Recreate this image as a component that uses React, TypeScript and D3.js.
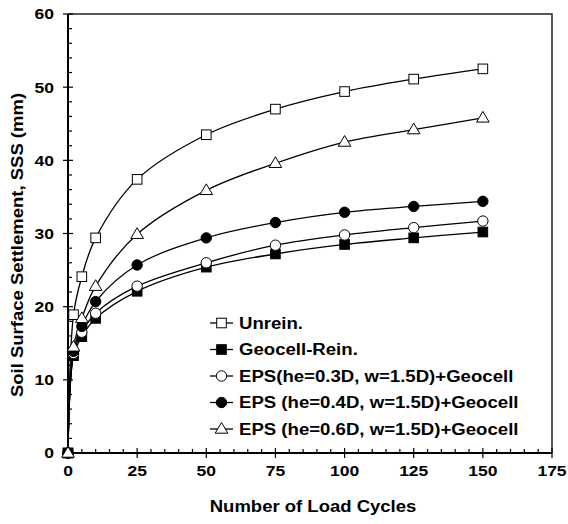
import React, { useEffect, useRef } from 'react';
import * as d3 from 'd3';

const cycles = [0, 2, 5, 10, 25, 50, 75, 100, 125, 150];
const unrein = [0, 18.9, 24.1, 29.4, 37.4, 43.5, 47.0, 49.4, 51.1, 52.5];
const geocell = [0, 13.3, 15.9, 18.4, 22.1, 25.4, 27.2, 28.5, 29.4, 30.2];
const eps03 = [0, 13.6, 16.5, 19.1, 22.8, 26.0, 28.4, 29.8, 30.8, 31.7];
const eps04 = [0, 13.9, 17.3, 20.7, 25.7, 29.4, 31.5, 32.9, 33.7, 34.4];
const eps06 = [0, 14.5, 18.4, 22.8, 29.9, 35.9, 39.6, 42.5, 44.2, 45.8];

const seriesNames = [
  'Unrein.',
  'Geocell-Rein.',
  'EPS(he=0.3D, w=1.5D)+Geocell',
  'EPS (he=0.4D, w=1.5D)+Geocell',
  'EPS (he=0.6D, w=1.5D)+Geocell',
];
const seriesValues = [unrein, geocell, eps03, eps04, eps06];
const seriesMarkers = ['square-open', 'square', 'circle-open', 'circle', 'triangle-open'];

const xTicks = [0, 25, 50, 75, 100, 125, 150, 175];
const yTicks = [0, 10, 20, 30, 40, 50, 60];

const App = () => {
  const svgRef = useRef<SVGSVGElement>(null);

  useEffect(() => {
    const svg = d3.select(svgRef.current);
    svg.selectAll('*').remove();

    const W = 568, H = 524;
    const margin = { top: 14, right: 16, bottom: 71, left: 68 };
    const width = W - margin.left - margin.right;
    const height = H - margin.top - margin.bottom;
    const font = 'Liberation Sans, Arial, sans-serif';
    const squish = 0.87; // text in the reference is a bit flatter than normal

    const x = d3.scaleLinear().domain([0, 175]).range([0, width]);
    const y = d3.scaleLinear().domain([0, 60]).range([height, 0]);

    const label = (parent: any, tx: number, ty: number, str: string | number, size: number, anchor: string, rot = 0) =>
      parent.append('text')
        .attr('transform', `translate(${tx},${ty}) rotate(${rot}) scale(1,${squish})`)
        .attr('text-anchor', anchor)
        .attr('font-family', font)
        .attr('font-weight', 'bold')
        .attr('font-size', size)
        .attr('fill', '#000')
        .text(str);

    const g = svg.append('g').attr('transform', `translate(${margin.left},${margin.top})`);

    // frame (top & right)
    g.append('path')
      .attr('d', `M0,0H${width}V${height}`)
      .attr('fill', 'none')
      .attr('stroke', '#222')
      .attr('stroke-width', 1.5);

    // minor ticks
    d3.range(0, 176, 5).filter(v => v % 25 !== 0).forEach(v => {
      g.append('line').attr('x1', x(v)).attr('x2', x(v)).attr('y1', height).attr('y2', height - 4)
        .attr('stroke', '#000').attr('stroke-width', 1.2);
    });
    d3.range(0, 61, 2).filter(v => v % 10 !== 0).forEach(v => {
      g.append('line').attr('x1', 0).attr('x2', 4).attr('y1', y(v)).attr('y2', y(v))
        .attr('stroke', '#000').attr('stroke-width', 1.2);
    });

    const tickSize = 17.5;
    const tickCap = 0.716 * tickSize * squish;

    // major ticks + labels
    xTicks.forEach(v => {
      g.append('line').attr('x1', x(v)).attr('x2', x(v)).attr('y1', height + 5).attr('y2', height - 5)
        .attr('stroke', '#000').attr('stroke-width', 1.2);
      label(g, x(v), height + 18 + tickCap / 2, v, tickSize, 'middle');
    });
    yTicks.forEach(v => {
      g.append('line').attr('x1', -5).attr('x2', 5).attr('y1', y(v)).attr('y2', y(v))
        .attr('stroke', '#000').attr('stroke-width', 1.2);
      label(g, -14, y(v) + tickCap / 2, v, tickSize, 'end');
    });

    // axis lines
    g.append('line').attr('x1', 0).attr('x2', width).attr('y1', height).attr('y2', height)
      .attr('stroke', '#000').attr('stroke-width', 1.8);
    g.append('line').attr('x1', 0).attr('x2', 0).attr('y1', 0).attr('y2', height)
      .attr('stroke', '#000').attr('stroke-width', 2);

    // axis titles
    label(svg, margin.left + width / 2 + 3, 512, 'Number of Load Cycles', 18.5, 'middle');
    label(svg, 23, 245, 'Soil Surface Settlement, SSS (mm)', 18.5, 'middle', -90);

    const drawMarker = (sel: any, type: string, cx: number, cy: number) => {
      const filled = !type.endsWith('open');
      const fill = filled ? '#000' : '#fff';
      if (type.startsWith('square')) {
        sel.append('rect').attr('x', cx - 4.8).attr('y', cy - 4.8).attr('width', 9.6).attr('height', 9.6)
          .attr('fill', fill).attr('stroke', '#000').attr('stroke-width', 1);
      } else if (type.startsWith('circle')) {
        sel.append('circle').attr('cx', cx).attr('cy', cy).attr('r', 5.2)
          .attr('fill', fill).attr('stroke', '#000').attr('stroke-width', 1);
      } else {
        sel.append('path')
          .attr('d', `M${cx},${cy - 6.5}L${cx + 6.3},${cy + 4.2}L${cx - 6.3},${cy + 4.2}Z`)
          .attr('fill', fill).attr('stroke', '#000').attr('stroke-width', 1);
      }
    };

    const line = d3.line<number>()
      .x((_, i) => x(cycles[i]))
      .y(d => y(d))
      .curve(d3.curveCatmullRom.alpha(0.5));

    seriesValues.forEach(vals => {
      g.append('path').attr('d', line(vals))
        .attr('fill', 'none').attr('stroke', '#000').attr('stroke-width', 1.3);
    });
    seriesValues.forEach((vals, si) => {
      const mg = g.append('g');
      vals.forEach((v, i) => drawMarker(mg, seriesMarkers[si], x(cycles[i]), y(v)));
    });

    // legend
    const legSize = 18.6;
    const legCap = 0.716 * legSize * squish;
    const lg = svg.append('g').attr('transform', 'translate(210,323)');
    seriesNames.forEach((name, i) => {
      const row = lg.append('g').attr('transform', `translate(0,${i * 26.5})`);
      row.append('line').attr('x1', 0).attr('x2', 23).attr('y1', 0).attr('y2', 0)
        .attr('stroke', '#000').attr('stroke-width', 1.3);
      drawMarker(row, seriesMarkers[i], 11.5, 0);
      label(row, 29, legCap / 2, name, legSize, 'start');
    });
  }, []);

  return (
    <svg ref={svgRef} width={568} height={524} style={{ display: 'block', position: 'absolute', left: 0, top: 0, background: '#fff' }} />
  );
};

export default App;
